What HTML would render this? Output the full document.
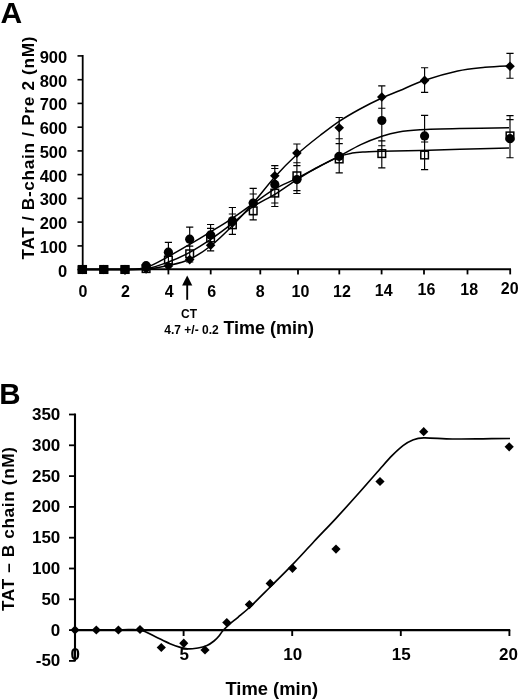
<!DOCTYPE html>
<html><head><meta charset="utf-8"><title>Figure</title>
<style>
html,body{margin:0;padding:0;background:#fff;}
body{width:520px;height:700px;overflow:hidden;font-family:"Liberation Sans",sans-serif;}
svg{display:block;will-change:transform;}
</style></head><body>
<svg width="520" height="700" viewBox="0 0 520 700">
<rect width="520" height="700" fill="#fff"/>
<text x="0.4" y="22.5" font-size="30" font-family="Liberation Sans, sans-serif" font-weight="bold">A</text>
<path d="M82.7 55 V270.4" stroke="#000" stroke-width="1.8" fill="none"/>
<path d="M82 269.3 H511" stroke="#000" stroke-width="2" fill="none"/>
<path d="M77.5 269.6 H83" stroke="#000" stroke-width="1.6"/>
<text x="67.2" y="276.5" font-size="16.5" text-anchor="end" font-family="Liberation Sans, sans-serif" font-weight="bold">0</text>
<path d="M77.5 245.9 H83" stroke="#000" stroke-width="1.6"/>
<text x="67.2" y="252.8" font-size="16.5" text-anchor="end" font-family="Liberation Sans, sans-serif" font-weight="bold">100</text>
<path d="M77.5 222.1 H83" stroke="#000" stroke-width="1.6"/>
<text x="67.2" y="229.0" font-size="16.5" text-anchor="end" font-family="Liberation Sans, sans-serif" font-weight="bold">200</text>
<path d="M77.5 198.4 H83" stroke="#000" stroke-width="1.6"/>
<text x="67.2" y="205.3" font-size="16.5" text-anchor="end" font-family="Liberation Sans, sans-serif" font-weight="bold">300</text>
<path d="M77.5 174.6 H83" stroke="#000" stroke-width="1.6"/>
<text x="67.2" y="181.5" font-size="16.5" text-anchor="end" font-family="Liberation Sans, sans-serif" font-weight="bold">400</text>
<path d="M77.5 150.9 H83" stroke="#000" stroke-width="1.6"/>
<text x="67.2" y="157.8" font-size="16.5" text-anchor="end" font-family="Liberation Sans, sans-serif" font-weight="bold">500</text>
<path d="M77.5 127.2 H83" stroke="#000" stroke-width="1.6"/>
<text x="67.2" y="134.1" font-size="16.5" text-anchor="end" font-family="Liberation Sans, sans-serif" font-weight="bold">600</text>
<path d="M77.5 103.4 H83" stroke="#000" stroke-width="1.6"/>
<text x="67.2" y="110.3" font-size="16.5" text-anchor="end" font-family="Liberation Sans, sans-serif" font-weight="bold">700</text>
<path d="M77.5 79.7 H83" stroke="#000" stroke-width="1.6"/>
<text x="67.2" y="86.6" font-size="16.5" text-anchor="end" font-family="Liberation Sans, sans-serif" font-weight="bold">800</text>
<path d="M77.5 55.9 H83" stroke="#000" stroke-width="1.6"/>
<text x="67.2" y="62.8" font-size="16.5" text-anchor="end" font-family="Liberation Sans, sans-serif" font-weight="bold">900</text>
<text x="82.9" y="297.0" font-size="16" text-anchor="middle" font-family="Liberation Sans, sans-serif" font-weight="bold">0</text>
<path d="M125.0 269 V274.4" stroke="#000" stroke-width="1.8"/>
<text x="125.4" y="297.2" font-size="16" text-anchor="middle" font-family="Liberation Sans, sans-serif" font-weight="bold">2</text>
<path d="M168.4 269 V274.4" stroke="#000" stroke-width="1.8"/>
<text x="169.3" y="297.3" font-size="16" text-anchor="middle" font-family="Liberation Sans, sans-serif" font-weight="bold">4</text>
<path d="M210.7 269 V274.4" stroke="#000" stroke-width="1.8"/>
<text x="211.6" y="297.3" font-size="16" text-anchor="middle" font-family="Liberation Sans, sans-serif" font-weight="bold">6</text>
<path d="M260.3 269 V274.4" stroke="#000" stroke-width="1.8"/>
<text x="260.3" y="296.6" font-size="16" text-anchor="middle" font-family="Liberation Sans, sans-serif" font-weight="bold">8</text>
<path d="M298.0 269 V274.4" stroke="#000" stroke-width="1.8"/>
<text x="300.5" y="296.6" font-size="16" text-anchor="middle" font-family="Liberation Sans, sans-serif" font-weight="bold">10</text>
<path d="M339.3 269 V274.4" stroke="#000" stroke-width="1.8"/>
<text x="341.9" y="297.2" font-size="16" text-anchor="middle" font-family="Liberation Sans, sans-serif" font-weight="bold">12</text>
<path d="M381.6 269 V274.4" stroke="#000" stroke-width="1.8"/>
<text x="383.7" y="296.2" font-size="16" text-anchor="middle" font-family="Liberation Sans, sans-serif" font-weight="bold">14</text>
<path d="M424.0 269 V274.4" stroke="#000" stroke-width="1.8"/>
<text x="426.4" y="295.1" font-size="16" text-anchor="middle" font-family="Liberation Sans, sans-serif" font-weight="bold">16</text>
<path d="M467.5 269 V274.4" stroke="#000" stroke-width="1.8"/>
<text x="469.2" y="294.5" font-size="16" text-anchor="middle" font-family="Liberation Sans, sans-serif" font-weight="bold">18</text>
<path d="M510.2 269 V274.4" stroke="#000" stroke-width="1.8"/>
<text x="509.7" y="293.8" font-size="16" text-anchor="middle" font-family="Liberation Sans, sans-serif" font-weight="bold">20</text>
<text transform="translate(34 259.5) rotate(-90)" font-size="17.2" textLength="223" lengthAdjust="spacing" font-family="Liberation Sans, sans-serif" font-weight="bold">TAT / B-chain / Pre 2 (nM)</text>
<text x="223.4" y="334.4" font-size="18" font-family="Liberation Sans, sans-serif" font-weight="bold">Time (min)</text>
<text x="189" y="317.8" font-size="12" text-anchor="middle" font-family="Liberation Sans, sans-serif" font-weight="bold">CT</text>
<text x="191.5" y="333.6" font-size="12" text-anchor="middle" font-family="Liberation Sans, sans-serif" font-weight="bold">4.7 +/- 0.2</text>
<path d="M187.2 299.8 V283" stroke="#000" stroke-width="1.9"/>
<path d="M187.2 275.6 L192.3 285.4 L182.1 285.4 Z" fill="#000"/>
<path d="M82.5 269.5 C89.6 269.5 114.4 269.6 125.0 269.5 C135.6 269.4 138.9 269.8 146.1 269.2 C153.3 268.6 161.1 267.3 168.4 265.6 C175.7 263.9 182.7 262.5 189.7 259.2 C196.7 255.9 203.5 251.6 210.6 246.0 C217.7 240.4 225.3 232.9 232.4 225.7 C239.5 218.5 246.1 211.1 253.2 203.0 C260.3 194.9 267.5 185.1 274.8 177.0 C282.1 168.9 289.4 161.4 296.9 154.5 C304.4 147.6 312.9 141.0 320.0 135.5 C327.1 130.0 332.5 125.7 339.2 121.3 C345.9 116.9 352.9 112.9 360.0 109.0 C367.1 105.1 375.2 101.1 381.9 98.0 C388.6 94.9 392.9 93.5 400.0 90.5 C407.1 87.5 415.1 83.5 424.7 80.3 C434.3 77.0 447.6 73.2 457.7 71.0 C467.8 68.8 476.4 68.2 485.0 67.3 C493.6 66.4 505.4 66.0 509.5 65.8" stroke="#000" stroke-width="1.5" fill="none"/>
<path d="M82.5 269.5 C89.6 269.5 114.4 269.8 125.0 269.5 C135.6 269.2 138.9 269.7 146.1 267.5 C153.3 265.3 161.1 260.4 168.4 256.5 C175.7 252.7 182.7 248.5 189.7 244.4 C196.7 240.3 203.5 236.2 210.6 231.8 C217.7 227.5 225.3 223.0 232.4 218.3 C239.5 213.6 246.1 208.5 253.2 203.6 C260.3 198.7 267.5 193.0 274.8 188.8 C282.1 184.6 289.4 182.1 296.9 178.3 C304.4 174.5 312.9 169.7 320.0 166.0 C327.1 162.3 332.4 159.9 339.2 156.3 C346.0 152.7 353.7 147.9 360.8 144.6 C367.9 141.2 375.6 138.3 381.9 136.2 C388.2 134.1 392.4 133.0 398.8 131.9 C405.2 130.8 409.8 130.4 420.0 129.8 C430.2 129.2 445.2 128.9 460.0 128.6 C474.8 128.2 500.8 127.8 509.0 127.7" stroke="#000" stroke-width="1.5" fill="none"/>
<path d="M82.5 269.5 C89.6 269.5 114.4 269.6 125.0 269.5 C135.6 269.4 138.9 270.1 146.1 268.8 C153.3 267.6 161.1 264.7 168.4 262.0 C175.7 259.3 182.7 256.2 189.7 252.4 C196.7 248.6 203.5 244.2 210.6 239.4 C217.7 234.6 225.3 228.9 232.4 223.4 C239.5 217.9 246.1 211.3 253.2 206.5 C260.3 201.7 267.5 198.8 274.8 194.3 C282.1 189.8 289.4 184.3 296.9 179.6 C304.4 174.9 312.9 170.0 320.0 166.2 C327.1 162.3 333.8 158.7 339.2 156.5 C344.6 154.3 348.0 153.9 352.3 153.1 C356.6 152.3 360.1 152.2 365.0 151.9 C369.9 151.6 372.7 151.6 381.9 151.3 C391.1 151.1 407.0 150.8 420.0 150.4 C433.0 150.1 445.2 149.6 460.0 149.2 C474.8 148.8 500.8 148.2 509.0 148.0" stroke="#000" stroke-width="1.5" fill="none"/>
<path d="M168.4 242.3 V266.0 M164.8 242.3 H172.0 M164.8 266.0 H172.0 M189.7 227.1 V262.0 M186.1 227.1 H193.3 M186.1 262.0 H193.3 M186.1 246.1 H193.3 M210.6 224.5 V250.8 M207.0 224.5 H214.2 M207.0 250.8 H214.2 M207.0 228.3 H214.2 M232.4 207.5 V234.4 M228.8 207.5 H236.0 M228.8 234.4 H236.0 M228.8 214.0 H236.0 M253.2 188.3 V219.8 M249.6 188.3 H256.8 M249.6 219.8 H256.8 M249.6 194.0 H256.8 M249.6 214.6 H256.8 M274.8 165.6 V206.5 M271.2 165.6 H278.4 M271.2 206.5 H278.4 M271.2 168.5 H278.4 M271.2 203.0 H278.4 M296.9 144.0 V193.5 M293.3 144.0 H300.5 M293.3 193.5 H300.5 M293.3 162.7 H300.5 M293.3 165.6 H300.5 M293.3 190.6 H300.5 M339.2 117.5 V172.8 M335.6 117.5 H342.8 M335.6 172.8 H342.8 M335.6 138.7 H342.8 M335.6 143.6 H342.8 M381.8 85.8 V167.9 M378.2 85.8 H385.4 M378.2 167.9 H385.4 M378.2 108.2 H385.4 M378.2 140.8 H385.4 M378.2 145.7 H385.4 M424.6 67.7 V92.4 M421.0 67.7 H428.2 M421.0 92.4 H428.2 M424.6 115.3 V169.6 M421.0 115.3 H428.2 M421.0 169.6 H428.2 M421.0 142.0 H428.2 M510.0 53.4 V78.2 M506.4 53.4 H513.6 M506.4 78.2 H513.6 M510.0 115.6 V157.7 M506.4 115.6 H513.6 M506.4 157.7 H513.6 M506.4 119.6 H513.6" stroke="#000" stroke-width="1.15" fill="none"/>
<rect x="78.7" y="265.7" width="7.6" height="7.6" fill="none" stroke="#000" stroke-width="1.5"/>
<rect x="100.0" y="265.7" width="7.6" height="7.6" fill="none" stroke="#000" stroke-width="1.5"/>
<rect x="121.2" y="265.7" width="7.6" height="7.6" fill="none" stroke="#000" stroke-width="1.5"/>
<rect x="142.3" y="264.8" width="7.6" height="7.6" fill="none" stroke="#000" stroke-width="1.5"/>
<rect x="164.6" y="256.2" width="7.6" height="7.6" fill="none" stroke="#000" stroke-width="1.5"/>
<rect x="185.9" y="250.0" width="7.6" height="7.6" fill="none" stroke="#000" stroke-width="1.5"/>
<rect x="206.8" y="234.2" width="7.6" height="7.6" fill="none" stroke="#000" stroke-width="1.5"/>
<rect x="228.6" y="221.0" width="7.6" height="7.6" fill="none" stroke="#000" stroke-width="1.5"/>
<rect x="249.4" y="207.0" width="7.6" height="7.6" fill="none" stroke="#000" stroke-width="1.5"/>
<rect x="271.0" y="189.3" width="7.6" height="7.6" fill="none" stroke="#000" stroke-width="1.5"/>
<rect x="293.1" y="172.0" width="7.6" height="7.6" fill="none" stroke="#000" stroke-width="1.5"/>
<rect x="335.4" y="155.2" width="7.6" height="7.6" fill="none" stroke="#000" stroke-width="1.5"/>
<rect x="378.0" y="149.8" width="7.6" height="7.6" fill="none" stroke="#000" stroke-width="1.5"/>
<rect x="420.8" y="151.2" width="7.6" height="7.6" fill="none" stroke="#000" stroke-width="1.5"/>
<rect x="506.2" y="132.1" width="7.6" height="7.6" fill="none" stroke="#000" stroke-width="1.5"/>
<path d="M82.5 264.7 L87.3 269.5 L82.5 274.3 L77.7 269.5 Z" fill="#000"/>
<path d="M103.8 264.7 L108.6 269.5 L103.8 274.3 L99.0 269.5 Z" fill="#000"/>
<path d="M125.0 264.7 L129.8 269.5 L125.0 274.3 L120.2 269.5 Z" fill="#000"/>
<path d="M146.1 264.2 L150.9 269.0 L146.1 273.8 L141.3 269.0 Z" fill="#000"/>
<path d="M168.4 261.2 L173.2 266.0 L168.4 270.8 L163.6 266.0 Z" fill="#000"/>
<path d="M189.7 254.8 L194.5 259.6 L189.7 264.4 L184.9 259.6 Z" fill="#000"/>
<path d="M210.6 240.5 L215.4 245.3 L210.6 250.1 L205.8 245.3 Z" fill="#000"/>
<path d="M232.4 218.2 L237.2 223.0 L232.4 227.8 L227.6 223.0 Z" fill="#000"/>
<path d="M253.2 198.2 L258.0 203.0 L253.2 207.8 L248.4 203.0 Z" fill="#000"/>
<path d="M274.8 171.0 L279.6 175.8 L274.8 180.6 L270.0 175.8 Z" fill="#000"/>
<path d="M296.9 148.3 L301.7 153.1 L296.9 157.9 L292.1 153.1 Z" fill="#000"/>
<path d="M339.2 122.9 L344.0 127.7 L339.2 132.5 L334.4 127.7 Z" fill="#000"/>
<path d="M381.8 92.2 L386.6 97.0 L381.8 101.8 L377.0 97.0 Z" fill="#000"/>
<path d="M424.6 75.6 L429.4 80.4 L424.6 85.2 L419.8 80.4 Z" fill="#000"/>
<path d="M510.0 61.4 L514.8 66.2 L510.0 71.0 L505.2 66.2 Z" fill="#000"/>
<circle cx="82.5" cy="269.5" r="4.6" fill="#000"/>
<circle cx="103.8" cy="269.5" r="4.6" fill="#000"/>
<circle cx="125.0" cy="269.5" r="4.6" fill="#000"/>
<circle cx="146.1" cy="265.7" r="4.6" fill="#000"/>
<circle cx="168.4" cy="252.2" r="4.6" fill="#000"/>
<circle cx="189.7" cy="239.2" r="4.6" fill="#000"/>
<circle cx="210.6" cy="234.9" r="4.6" fill="#000"/>
<circle cx="232.4" cy="220.8" r="4.6" fill="#000"/>
<circle cx="253.2" cy="203.1" r="4.6" fill="#000"/>
<circle cx="274.8" cy="184.4" r="4.6" fill="#000"/>
<circle cx="296.9" cy="179.6" r="4.6" fill="#000"/>
<circle cx="339.2" cy="156.3" r="4.6" fill="#000"/>
<circle cx="381.8" cy="120.5" r="4.6" fill="#000"/>
<circle cx="424.6" cy="135.9" r="4.6" fill="#000"/>
<circle cx="510.0" cy="138.7" r="4.6" fill="#000"/>
<rect x="77.5" y="265.3" width="8.8" height="8.6" fill="#000"/>
<rect x="99.4" y="265.3" width="8.8" height="8.6" fill="#000"/>
<rect x="120.6" y="265.3" width="8.8" height="8.6" fill="#000"/>
<text x="-0.8" y="403.6" font-size="29.5" font-family="Liberation Sans, sans-serif" font-weight="bold">B</text>
<path d="M75 413.6 V661" stroke="#000" stroke-width="2.1" fill="none"/>
<path d="M74 630.1 H510.2" stroke="#000" stroke-width="2.2" fill="none"/>
<path d="M69 414.5 H75.5" stroke="#000" stroke-width="1.8"/>
<text x="60.3" y="419.9" font-size="17" text-anchor="end" font-family="Liberation Sans, sans-serif" font-weight="bold">350</text>
<path d="M69 445.3 H75.5" stroke="#000" stroke-width="1.8"/>
<text x="60.3" y="450.7" font-size="17" text-anchor="end" font-family="Liberation Sans, sans-serif" font-weight="bold">300</text>
<path d="M69 476.1 H75.5" stroke="#000" stroke-width="1.8"/>
<text x="60.3" y="481.5" font-size="17" text-anchor="end" font-family="Liberation Sans, sans-serif" font-weight="bold">250</text>
<path d="M69 506.9 H75.5" stroke="#000" stroke-width="1.8"/>
<text x="60.3" y="512.3" font-size="17" text-anchor="end" font-family="Liberation Sans, sans-serif" font-weight="bold">200</text>
<path d="M69 537.7 H75.5" stroke="#000" stroke-width="1.8"/>
<text x="60.3" y="543.1" font-size="17" text-anchor="end" font-family="Liberation Sans, sans-serif" font-weight="bold">150</text>
<path d="M69 568.5 H75.5" stroke="#000" stroke-width="1.8"/>
<text x="60.3" y="573.9" font-size="17" text-anchor="end" font-family="Liberation Sans, sans-serif" font-weight="bold">100</text>
<path d="M69 599.3 H75.5" stroke="#000" stroke-width="1.8"/>
<text x="60.3" y="604.7" font-size="17" text-anchor="end" font-family="Liberation Sans, sans-serif" font-weight="bold">50</text>
<path d="M69 630.1 H75.5" stroke="#000" stroke-width="1.8"/>
<text x="60.3" y="635.5" font-size="17" text-anchor="end" font-family="Liberation Sans, sans-serif" font-weight="bold">0</text>
<path d="M69 660.9 H75.5" stroke="#000" stroke-width="1.8"/>
<text x="60.3" y="666.3" font-size="17" text-anchor="end" font-family="Liberation Sans, sans-serif" font-weight="bold">-50</text>
<path d="M183.6 630 V636" stroke="#000" stroke-width="1.9"/>
<path d="M292.2 630 V636" stroke="#000" stroke-width="1.9"/>
<path d="M400.8 630 V636" stroke="#000" stroke-width="1.9"/>
<path d="M509.4 630 V636" stroke="#000" stroke-width="1.9"/>
<text x="75.3" y="659.7" font-size="17" text-anchor="middle" font-family="Liberation Sans, sans-serif" font-weight="bold">0</text>
<text x="184.3" y="659.7" font-size="17" text-anchor="middle" font-family="Liberation Sans, sans-serif" font-weight="bold">5</text>
<text x="292.7" y="659.7" font-size="17" text-anchor="middle" font-family="Liberation Sans, sans-serif" font-weight="bold">10</text>
<text x="401.3" y="659.7" font-size="17" text-anchor="middle" font-family="Liberation Sans, sans-serif" font-weight="bold">15</text>
<text x="508.4" y="659.7" font-size="17" text-anchor="middle" font-family="Liberation Sans, sans-serif" font-weight="bold">20</text>
<text transform="translate(14.3 611) rotate(-90)" font-size="17.2" textLength="164" lengthAdjust="spacing" font-family="Liberation Sans, sans-serif" font-weight="bold">TAT – B chain (nM)</text>
<text x="225.4" y="694.6" font-size="18.4" font-family="Liberation Sans, sans-serif" font-weight="bold">Time (min)</text>
<path d="M75.0 630.0 C82.2 630.0 107.2 630.0 118.0 630.0 C128.8 630.0 133.8 628.9 140.0 630.0 C146.2 631.1 150.0 634.2 155.0 636.5 C160.0 638.8 164.8 641.7 170.0 643.7 C175.2 645.7 181.3 648.0 186.0 648.7 C190.7 649.4 194.5 648.5 198.0 648.0 C201.5 647.5 204.3 646.7 207.0 645.5 C209.7 644.3 212.0 642.6 214.0 641.0 C216.0 639.4 217.5 637.8 219.0 636.0 C220.5 634.2 221.2 632.5 223.0 630.5 C224.8 628.5 227.5 626.0 230.0 623.8 C232.5 621.6 234.7 620.1 238.0 617.3 C241.3 614.5 244.6 612.0 250.0 607.0 C255.4 602.0 263.1 594.1 270.2 587.0 C277.3 579.9 285.2 572.2 292.5 564.6 C299.8 557.0 306.8 549.2 314.0 541.5 C321.2 533.8 328.3 526.6 336.0 518.3 C343.7 510.0 352.7 500.0 360.0 491.8 C367.3 483.6 374.7 475.0 380.0 469.0 C385.3 463.0 388.2 459.6 392.0 455.7 C395.8 451.8 399.6 448.2 403.0 445.6 C406.4 443.0 408.9 441.5 412.3 440.2 C415.8 438.9 417.0 438.1 423.7 437.9 C430.4 437.7 442.4 438.9 452.3 439.0 C462.2 439.1 473.4 438.9 483.0 438.8 C492.6 438.7 505.5 438.6 510.0 438.5" stroke="#000" stroke-width="1.7" fill="none"/>
<path d="M75.0 625.4 L79.6 630.0 L75.0 634.6 L70.4 630.0 Z" fill="#000"/>
<path d="M96.3 625.4 L100.9 630.0 L96.3 634.6 L91.7 630.0 Z" fill="#000"/>
<path d="M118.4 625.4 L123.0 630.0 L118.4 634.6 L113.8 630.0 Z" fill="#000"/>
<path d="M140.0 624.9 L144.6 629.5 L140.0 634.1 L135.4 629.5 Z" fill="#000"/>
<path d="M161.3 642.9 L165.9 647.5 L161.3 652.1 L156.7 647.5 Z" fill="#000"/>
<path d="M183.8 638.6 L188.3 643.2 L183.8 647.9 L179.2 643.2 Z" fill="#000"/>
<path d="M205.0 645.4 L209.6 650.0 L205.0 654.6 L200.4 650.0 Z" fill="#000"/>
<path d="M226.8 617.9 L231.3 622.5 L226.8 627.1 L222.2 622.5 Z" fill="#000"/>
<path d="M249.4 600.0 L254.0 604.6 L249.4 609.2 L244.8 604.6 Z" fill="#000"/>
<path d="M270.2 578.8 L274.8 583.4 L270.2 588.0 L265.6 583.4 Z" fill="#000"/>
<path d="M292.5 563.7 L297.1 568.3 L292.5 572.9 L287.9 568.3 Z" fill="#000"/>
<path d="M336.0 544.5 L340.6 549.1 L336.0 553.7 L331.4 549.1 Z" fill="#000"/>
<path d="M380.0 476.9 L384.6 481.5 L380.0 486.1 L375.4 481.5 Z" fill="#000"/>
<path d="M423.7 427.1 L428.3 431.7 L423.7 436.3 L419.1 431.7 Z" fill="#000"/>
<path d="M509.2 442.2 L513.8 446.8 L509.2 451.4 L504.6 446.8 Z" fill="#000"/>
</svg>
</body></html>
